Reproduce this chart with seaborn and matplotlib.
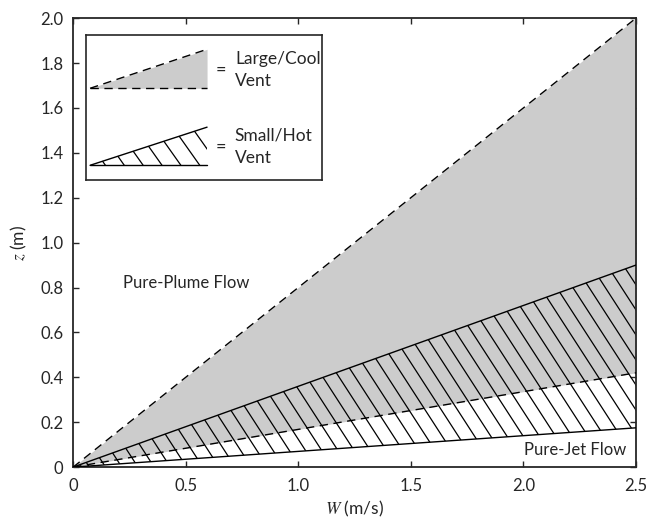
import numpy as np
import matplotlib
matplotlib.use("Agg")
import matplotlib.pyplot as plt
from matplotlib.patches import Polygon
import seaborn as sns
import pandas as pd

# ---- data ----
W = [0.0, 0.5, 1.0, 1.5, 2.0, 2.5]
z_large_upper = [0.0, 0.40, 0.80, 1.20, 1.60, 2.00]   # dashed, large/cool vent upper bound
z_large_lower = [0.0, 0.084, 0.168, 0.252, 0.336, 0.42]  # dashed, large/cool vent lower bound
z_small_upper = [0.0, 0.18, 0.36, 0.54, 0.72, 0.90]   # solid, small/hot vent upper bound
z_small_lower = [0.0, 0.035, 0.07, 0.105, 0.14, 0.175]  # solid, small/hot vent lower bound

x_ticks = [0, 0.5, 1.0, 1.5, 2.0, 2.5]
x_labels = ["0", "0.5", "1.0", "1.5", "2.0", "2.5"]
y_ticks = [0, 0.2, 0.4, 0.6, 0.8, 1.0, 1.2, 1.4, 1.6, 1.8, 2.0]
y_labels = ["0", "0.2", "0.4", "0.6", "0.8", "1.0", "1.2", "1.4", "1.6", "1.8", "2.0"]

sns.set_style("ticks")
plt.rcParams["font.family"] = ["Lato", "DejaVu Sans"]
plt.rcParams["mathtext.fontset"] = "stix"

fig = plt.figure(figsize=(6.59, 5.19), dpi=100)
ax = fig.add_axes([0.111, 0.100, 0.854, 0.865])

GRAY = "#cccccc"
ax.fill_between(W, z_large_lower, z_large_upper, color=GRAY, lw=0, zorder=1)

# hatched region for small/hot vent
poly = Polygon(np.column_stack([W + W[::-1], z_small_lower + z_small_upper[::-1]]),
               closed=True, facecolor="none", edgecolor="none")
ax.add_patch(poly)
slope = -1.55
spacing = 0.072
for c in np.arange(0.0, 3.2, spacing):
    xs = np.array([c - 1.0, c])
    zs = slope * (xs - c)
    l, = ax.plot(xs, zs, color="black", lw=0.9, zorder=2)
    l.set_clip_path(poly)

df = pd.DataFrame({"W": W * 4,
                   "z": z_large_upper + z_large_lower + z_small_upper + z_small_lower,
                   "line": ["lu"] * 6 + ["ll"] * 6 + ["su"] * 6 + ["sl"] * 6})
sns.lineplot(data=df, x="W", y="z", units="line", estimator=None, ax=ax,
             hue="line", palette={"lu": "black", "ll": "black", "su": "black", "sl": "black"},
             style="line", dashes={"lu": (6, 4), "ll": (6, 4), "su": "", "sl": ""},
             legend=False, lw=1.0, zorder=3)

ax.set_xlim(0, 2.5)
ax.set_ylim(0, 2.0)
ax.set_xticks(x_ticks)
ax.set_xticklabels(x_labels)
ax.set_yticks(y_ticks)
ax.set_yticklabels(y_labels)
ax.tick_params(direction="in", top=True, right=True, length=4, width=1,
               labelsize=12)
ax.tick_params(axis="x", pad=8)
ax.tick_params(axis="y", pad=7)
for s in ax.spines.values():
    s.set_linewidth(1.3)
ax.set_xlabel(r"$W$ (m/s)", fontsize=12.5, labelpad=3)
ax.set_ylabel(r"$z$ (m)", fontsize=12.5, labelpad=8)

ax.text(0.50, 0.82, "Pure-Plume Flow", fontsize=12, ha="center", va="center")
ax.text(2.23, 0.075, "Pure-Jet Flow", fontsize=12, ha="center", va="center")

# ---- custom legend box ----
lg = ax.inset_axes([0.023, 0.639, 0.419, 0.323])
lg.set_xlim(0, 1)
lg.set_ylim(0, 1)
lg.set_xticks([])
lg.set_yticks([])
for s in lg.spines.values():
    s.set_linewidth(1.2)
lg.set_zorder(5)
lg.patch.set_facecolor("white")

tx = [0.017, 0.513]
lg.fill_between(tx, [0.634, 0.634], [0.634, 0.903], color=GRAY, lw=0)
lg.plot(tx, [0.634, 0.903], color="black", lw=1.0, dashes=(6, 4))
lg.plot(tx, [0.634, 0.634], color="black", lw=1.0, dashes=(6, 4))

tri = Polygon([[tx[0], 0.103], [tx[1], 0.103], [tx[1], 0.366]], closed=True,
              facecolor="none", edgecolor="none")
lg.add_patch(tri)
lslope = -2.3
for c in np.arange(0.082, 0.58, 0.08):
    xs = np.array([c - 0.5, c])
    l, = lg.plot(xs, 0.103 + lslope * (xs - c), color="black", lw=0.9)
    l.set_clip_path(tri)
lg.plot(tx, [0.103, 0.366], color="black", lw=1.0)
lg.plot(tx, [0.103, 0.103], color="black", lw=1.0)

lg.text(0.551, 0.765, "=", fontsize=13, ha="left", va="center")
lg.text(0.631, 0.76, "Large/Cool\nVent", fontsize=12.5, ha="left", va="center",
        linespacing=1.45)
lg.text(0.551, 0.23, "=", fontsize=13, ha="left", va="center")
lg.text(0.631, 0.231, "Small/Hot\nVent", fontsize=12.5, ha="left", va="center",
        linespacing=1.45)

fig.savefig("out.png", dpi=100)
